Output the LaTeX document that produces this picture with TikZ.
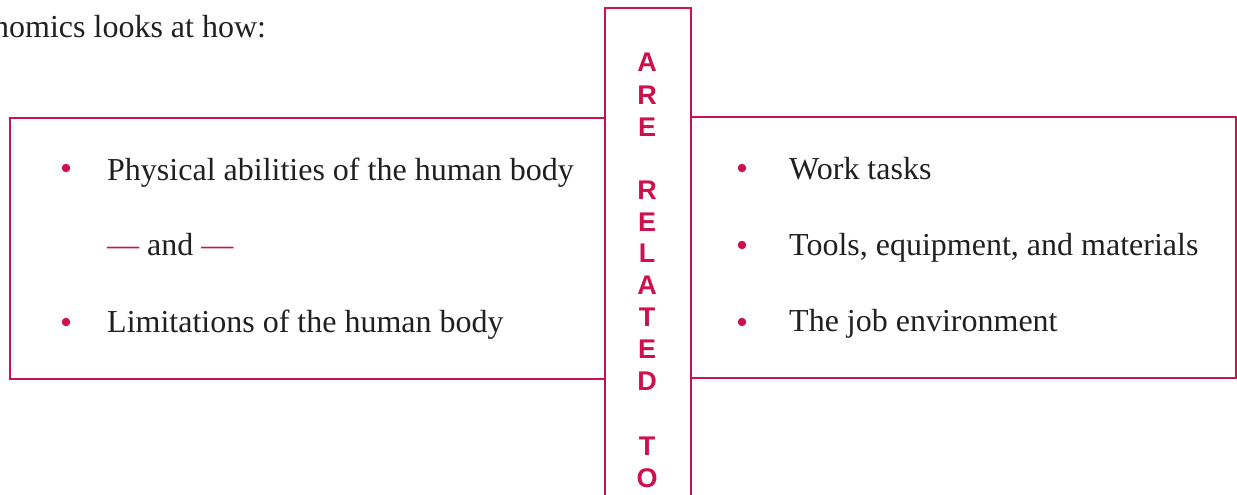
\documentclass[tikz,border=0pt]{standalone}
\usepackage{fontspec}
\setmainfont{Liberation Serif}
\newfontfamily\barfont{Liberation Sans}
\definecolor{crim}{RGB}{204,17,76}
\definecolor{ink}{RGB}{35,31,32}
\begin{document}
\begin{tikzpicture}[x=1pt,y=-1pt,
  box/.style={draw=crim,line width=1.8pt,inner sep=0pt,anchor=north west},
  txt/.style={anchor=base west,inner sep=0pt,text=ink,font=\fontsize{32}{37}\selectfont},
  dot/.style={circle,fill=crim,inner sep=0pt,minimum size=8.5pt},
  letter/.style={inner sep=0pt,text=crim,font=\barfont\bfseries\fontsize{27}{31}\selectfont}]
\useasboundingbox (0,0) rectangle (1237,495);
\node[box,minimum width=595pt,minimum height=261pt] (leftbox) at (9,117) {};
\node[box,minimum width=545pt,minimum height=261pt] (rightbox) at (690,116) {};
\node[box,fill=white,minimum width=86pt,minimum height=520pt] (bar) at (604,7) {};
% heading (clipped at left, as in the reference)
\node[txt] (head) at (-7,38) {nomics looks at how:};
% left items
\node[dot] (b1) at (66,168) {};
\node[txt] (t1) at (107,180) {Physical abilities of the human body};
\node[txt] (t2) at (107,255) {{\color{crim}—} and {\color{crim}—}};
\node[dot] (b2) at (66,322) {};
\node[txt] (t3) at (107,332) {Limitations of the human body};
% right items
\node[dot] (b3) at (742,168) {};
\node[txt] (r1) at (789,179) {Work tasks};
\node[dot] (b4) at (742,245) {};
\node[txt] (r2) at (789,255) {Tools, equipment, and materials};
\node[dot] (b5) at (742,322) {};
\node[txt] (r3) at (789,331) {The job environment};
% vertical text
\foreach \l/\y [count=\i] in {A/62,R/95,E/127,R/190,E/222,L/253,A/285,T/317,E/349,D/381,T/446,O/478}
  \node[letter] (L\i) at (647,\y) {\l};
\end{tikzpicture}
\end{document}
